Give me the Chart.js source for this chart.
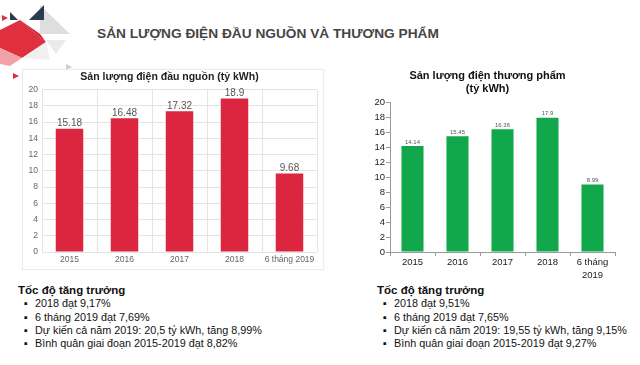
<!DOCTYPE html>
<html><head><meta charset="utf-8">
<script src="https://cdn.jsdelivr.net/npm/chart.js@4"></script>
<style>
body{margin:0;width:640px;height:365px;background:#fff;position:relative;overflow:hidden;font-family:"Liberation Sans",Arial,sans-serif;}
#logo{position:absolute;left:0;top:0;}
#title{position:absolute;left:97px;top:26px;font-weight:bold;font-size:13.7px;color:#454545;white-space:nowrap;}
#boxL{position:absolute;left:22px;top:69px;width:302px;height:201px;border:1px solid #ececec;box-sizing:border-box;box-shadow:0 0 2px rgba(0,0,0,0.06);}
#cL{position:absolute;left:22px;top:69px;}
#cR{position:absolute;left:360px;top:66px;}
.notes{position:absolute;top:284px;font-size:10.8px;color:#111;line-height:13.3px;white-space:nowrap;}
.notes b{display:block;font-size:11.5px;margin-bottom:0px;}
.notes div{padding-left:17px;position:relative;}
.notes div span{position:absolute;left:6px;top:0;}
</style></head><body>
<svg id="logo" width="80" height="80">
  <polygon points="40,5 70,34 40,34" fill="#dedede"/>
  <polygon points="44,5 44,20 29,20" fill="#2a3a50"/>
  <polygon points="10,12 18,20 10,20" fill="#2a3a50"/>
  <polygon points="2,15 8,18 2,21" fill="#e0303f"/>
  <polygon points="0,30 20,20 46,42 22,58 0,48" fill="#e0303f"/>
  <polygon points="20,20 40,34 46,42" fill="#c8202f"/>
  <polygon points="0,48 22,58 10,66 0,64" fill="#f3a1a9"/>
  <polygon points="46,40 66,40 56,54" fill="#ebebeb"/>
  <polygon points="22,58 46,42 50,60" fill="#f0f0f0"/>
  <polygon points="13,73 19,76 13,79" fill="#e0303f"/>
  <polygon points="66,64 72,67 66,70" fill="#cfcfcf"/>
</svg>
<div id="title">SẢN LƯỢNG ĐIỆN ĐẦU NGUỒN VÀ THƯƠNG PHẨM</div>
<div id="boxL"></div>
<canvas id="cL" width="302" height="201" style="width:302px;height:201px"></canvas>
<canvas id="cR" width="272" height="214" style="width:272px;height:214px"></canvas>
<div class="notes" style="left:18px">
  <b>Tốc độ tăng trưởng</b>
  <div><span>▪</span>2018 đạt 9,17%</div>
  <div><span>▪</span>6 tháng 2019 đạt 7,69%</div>
  <div><span>▪</span>Dự kiến cả năm 2019: 20,5 tỷ kWh, tăng 8,99%</div>
  <div><span>▪</span>Bình quân giai đoạn 2015-2019 đạt 8,82%</div>
</div>
<div class="notes" style="left:377px">
  <b>Tốc độ tăng trưởng</b>
  <div><span>▪</span>2018 đạt 9,51%</div>
  <div><span>▪</span>6 tháng 2019 đạt 7,65%</div>
  <div><span>▪</span>Dự kiến cả năm 2019: 19,55 tỷ kWh, tăng 9,15%</div>
  <div><span>▪</span>Bình quân giai đoạn 2015-2019 đạt 9,27%</div>
</div>
<script>
const categoriesLeft = ['2015','2016','2017','2018','6 tháng 2019'];
const sourceOutput = [15.18, 16.48, 17.32, 18.9, 9.68];
const categoriesRight = ['2015','2016','2017','2018',['6 tháng','2019']];
const commercialOutput = [14.14, 15.45, 16.36, 17.9, 8.99];
const yMin = 0, yMax = 20, yStep = 2;
const titleLeft = 'Sản lượng điện đầu nguồn (tỷ kWh)';
const titleRight = ['Sản lượng điện thương phẩm', '(tỷ kWh)'];

const FONT = '"Liberation Sans", Arial, sans-serif';

function valueLabels(size, color, gap) {
  return {
    id: 'valueLabels',
    afterDatasetsDraw(chart) {
      const ctx = chart.ctx;
      ctx.save();
      ctx.font = size + 'px ' + FONT;
      ctx.fillStyle = color;
      ctx.textAlign = 'center';
      ctx.textBaseline = 'bottom';
      chart.data.datasets.forEach((ds, i) => {
        chart.getDatasetMeta(i).data.forEach((bar, j) => {
          ctx.fillText(String(ds.data[j]), bar.x, bar.y - gap);
        });
      });
      ctx.restore();
    }
  };
}

new Chart(document.getElementById('cL'), {
  type: 'bar',
  data: { labels: categoriesLeft, datasets: [{ data: sourceOutput, backgroundColor: '#dc2640', barPercentage: 0.5, categoryPercentage: 1 }] },
  options: {
    responsive: false, animation: false,
    layout: { padding: { left: 0, right: 7, top: 0, bottom: 0 } },
    plugins: {
      legend: { display: false }, tooltip: { enabled: false },
      title: { display: true, text: titleLeft, color: '#222', font: { family: FONT, size: 10.5, weight: 'bold', lineHeight: 1.2 }, padding: { top: 2, bottom: 6 } }
    },
    scales: {
      x: {
        grid: { color: '#e4e4e4', drawTicks: false, offset: true },
        border: { display: false },
        ticks: { color: '#666', font: { family: FONT, size: 8.5 }, padding: 3, maxRotation: 0, autoSkip: false },
        afterFit(s) { s.height = 18; }
      },
      y: {
        min: yMin, max: yMax,
        grid: { color: '#e4e4e4', drawTicks: false },
        border: { display: false },
        ticks: { stepSize: yStep, color: '#666', font: { family: FONT, size: 8.5 }, padding: 4, autoSkip: false },
        afterFit(s) { s.width = 20; }
      }
    }
  },
  plugins: [valueLabels(10, '#555', 0)]
});

new Chart(document.getElementById('cR'), {
  type: 'bar',
  data: { labels: categoriesRight, datasets: [{ data: commercialOutput, backgroundColor: '#10a84b', barPercentage: 0.49, categoryPercentage: 1 }] },
  options: {
    responsive: false, animation: false,
    layout: { padding: { left: 0, right: 17, top: 0, bottom: 0 } },
    plugins: {
      legend: { display: false }, tooltip: { enabled: false },
      title: { display: true, text: titleRight, color: '#111', font: { family: FONT, size: 11, weight: 'bold', lineHeight: 1.2 }, padding: { top: 3.4, bottom: 6.2 } }
    },
    scales: {
      x: {
        grid: { drawOnChartArea: false, drawTicks: true, tickLength: 4, color: '#999', offset: true },
        border: { display: true, color: '#999' },
        ticks: { color: '#222', font: { family: FONT, size: 9.5, lineHeight: 1.35 }, padding: 0, maxRotation: 0, autoSkip: false },
        afterFit(s) { s.height = 28; }
      },
      y: {
        min: yMin, max: yMax,
        grid: { drawOnChartArea: false, drawTicks: true, tickLength: 4, color: '#999' },
        border: { display: true, color: '#999' },
        ticks: { stepSize: yStep, color: '#222', font: { family: FONT, size: 9.5 }, padding: 1, autoSkip: false },
        afterFit(s) { s.width = 30; }
      }
    }
  },
  plugins: [valueLabels(6, '#555', 1)]
});
</script>
</body></html>
